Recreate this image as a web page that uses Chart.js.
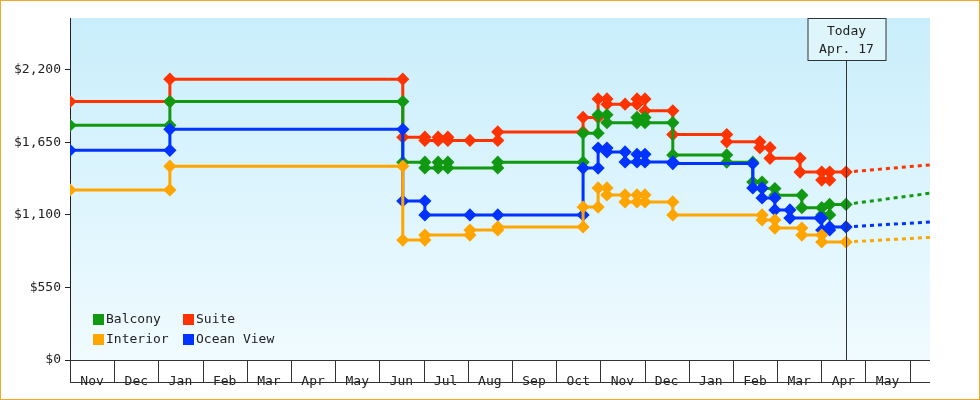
<!DOCTYPE html>
<html><head><meta charset="utf-8">
<script src="https://cdn.jsdelivr.net/npm/chart.js@4.4.0/dist/chart.umd.min.js"></script>
<style>html,body{margin:0;padding:0;background:#fff}#wrap{width:980px;height:400px;position:relative}canvas{outline:1px solid #f5a623;outline-offset:-1px}</style>
</head><body><div id="wrap"><canvas id="c" width="980" height="400"></canvas></div>
<script>
const monthLabels = ["Nov","Dec","Jan","Feb","Mar","Apr","May","Jun","Jul","Aug","Sep","Oct","Nov","Dec","Jan","Feb","Mar","Apr","May",""];
const yTicks = [0,550,1100,1650,2200];
const todayX = 17.56;
const todayLabel = ["Today","Apr. 17"];

const suiteX = [0,2.26,2.26,7.53,7.53,8.03,8.03,8.33,8.33,8.55,8.55,9.05,9.68,9.68,11.61,11.61,11.95,11.95,12.15,12.15,12.56,12.83,12.83,13.01,13.01,13.64,13.64,14.86,14.86,15.61,15.61,15.84,15.84,16.52,16.52,17.01,17.01,17.19,17.19,17.56];
const suiteY = [1960,1960,2130,2130,1690,1690,1665,1665,1690,1690,1665,1665,1665,1730,1730,1840,1840,1980,1980,1940,1940,1940,1980,1980,1890,1890,1710,1710,1655,1655,1610,1610,1530,1530,1425,1425,1365,1365,1425,1425];
const balconyX = [0,2.26,2.26,7.53,7.53,8.03,8.03,8.33,8.33,8.55,8.55,9.68,9.68,11.61,11.61,11.95,11.95,12.15,12.15,12.83,12.83,13.01,13.01,13.64,13.64,14.86,14.86,15.45,15.45,15.66,15.66,15.95,15.95,16.56,16.56,17.01,17.01,17.19,17.19,17.56];
const balconyY = [1780,1780,1960,1960,1500,1500,1457,1457,1500,1500,1457,1457,1500,1500,1720,1720,1860,1860,1800,1800,1840,1840,1800,1800,1555,1555,1500,1500,1350,1350,1300,1300,1250,1250,1155,1155,1100,1100,1180,1180];
const oceanX = [0,2.26,2.26,7.53,7.53,8.03,8.03,9.05,9.68,11.61,11.61,11.95,11.95,12.15,12.15,12.56,12.56,12.83,12.83,13.01,13.01,13.64,13.64,15.45,15.45,15.66,15.66,15.95,15.95,16.29,16.29,16.97,17.01,17.01,17.19,17.19,17.56];
const oceanY = [1590,1590,1750,1750,1206,1206,1100,1100,1100,1100,1456,1456,1608,1608,1578,1578,1502,1502,1560,1560,1502,1502,1490,1490,1305,1305,1229,1229,1138,1138,1077,1077,1077,986,986,1009,1009];
const interiorX = [0,2.26,2.26,7.53,7.53,8.03,8.03,9.05,9.05,9.68,9.68,11.61,11.61,11.95,11.95,12.15,12.15,12.56,12.56,12.83,12.83,13.01,13.01,13.64,13.64,15.66,15.66,15.95,15.95,16.56,16.56,17.01,17.01,17.56];
const interiorY = [1290,1290,1470,1470,910,910,948,948,986,986,1009,1009,1160,1160,1305,1305,1252,1252,1199,1199,1252,1252,1199,1199,1100,1100,1062,1062,1001,1001,948,948,895,895];
const futureX = [17.56,19.46];
const suiteFuture = [1425,1480];
const balconyFuture = [1180,1265];
const oceanFuture = [1009,1047];
const interiorFuture = [895,930];

const colors = {Balcony:"#119911",Suite:"#ff3300",Interior:"#ffa500","Ocean View":"#0033ff"};
const pts = (xs,ys)=>xs.map((x,i)=>({x:x,y:ys[i]}));
function ds(label,xs,ys){return {label,data:pts(xs,ys),borderColor:colors[label],backgroundColor:colors[label],borderWidth:3,pointStyle:'rectRot',pointRadius:4.5,pointHoverRadius:4.5,tension:0};}
function fut(label,ys){return {label:label+" future",data:pts(futureX,ys),borderColor:colors[label],borderWidth:3,borderDash:[4,4],pointRadius:0,tension:0,future:true};}

const mono = "'DejaVu Sans Mono', monospace";
const bgPlugin = {id:'bg',beforeDraw(ch){const a=ch.chartArea,c=ch.ctx;const g=c.createLinearGradient(0,a.top,0,a.bottom);g.addColorStop(0,'#c9eefb');g.addColorStop(1,'#f0fbff');c.save();c.fillStyle=g;c.fillRect(a.left,a.top,a.right-a.left,a.bottom-a.top);c.restore();}};
const decoPlugin = {id:'deco',afterDraw(ch){
  const c=ch.ctx,a=ch.chartArea,xs=ch.scales.x;c.save();
  // month boxes
  c.strokeStyle='#333';c.lineWidth=1;
  const bb=a.bottom+22;
  c.beginPath();c.moveTo(a.left,a.bottom+0.5);c.lineTo(a.right,a.bottom+0.5);c.moveTo(a.left,bb+0.5);c.lineTo(a.right,bb+0.5);
  for(let i=0;i<monthLabels.length;i++){const px=Math.round(xs.getPixelForValue(i))+0.5;if(px<=a.right){c.moveTo(px,a.bottom);c.lineTo(px,bb);}}
  c.stroke();
  // today
  const tx=Math.round(xs.getPixelForValue(todayX))+0.5;
  const bw=78,bh=42,bx=tx-bw/2+0.5,by=a.top+0.5;
  c.strokeStyle='#333';c.beginPath();c.moveTo(tx,by+bh);c.lineTo(tx,a.bottom);c.stroke();
  c.fillStyle='#def5fc';c.fillRect(bx,by,bw,bh);c.strokeRect(bx,by,bw,bh);
  c.fillStyle='#222';c.font="13px "+mono;c.textAlign='center';c.textBaseline='middle';
  c.fillText(todayLabel[0],tx,by+13);c.fillText(todayLabel[1],tx,by+31);
  // legend
  const items=[["Balcony",93,320],["Suite",183,320],["Interior",93,340],["Ocean View",183,340]];
  c.textAlign='left';
  items.forEach(([l,x,y])=>{c.fillStyle=colors[l];c.fillRect(x,y-6,11,11);c.fillStyle='#222';c.fillText(l,x+13,y);});
  c.restore();}};

new Chart(document.getElementById('c'),{
  type:'line',
  data:{datasets:[ds('Interior',interiorX,interiorY),ds('Ocean View',oceanX,oceanY),ds('Balcony',balconyX,balconyY),ds('Suite',suiteX,suiteY),
    fut('Interior',interiorFuture),fut('Ocean View',oceanFuture),fut('Balcony',balconyFuture),fut('Suite',suiteFuture)]},
  options:{responsive:false,animation:false,
    layout:{padding:{top:18,right:50,left:0,bottom:0}},
    plugins:{legend:{display:false},tooltip:{enabled:false}},
    scales:{
      x:{type:'linear',min:0,max:19.46,
        afterBuildTicks(ax){ax.ticks=monthLabels.map((m,i)=>({value:i+0.5}));},
        afterFit(ax){ax.height=40;},
        ticks:{autoSkip:false,maxRotation:0,padding:6,color:'#222',font:{family:mono,size:13},callback:(v,i)=>monthLabels[i]},
        grid:{display:false},border:{display:false}},
      y:{min:0,max:2594,
        afterBuildTicks(ax){ax.ticks=yTicks.map(v=>({value:v}));},
        afterFit(ax){ax.width=70;},
        ticks:{color:'#222',font:{family:mono,size:13},padding:4,callback:v=>'$'+v.toLocaleString('en-US')},
        grid:{drawOnChartArea:false,tickLength:5,color:'#222'},border:{color:'#222',width:1}}
    }},
  plugins:[bgPlugin,decoPlugin]
});
</script></body></html>
